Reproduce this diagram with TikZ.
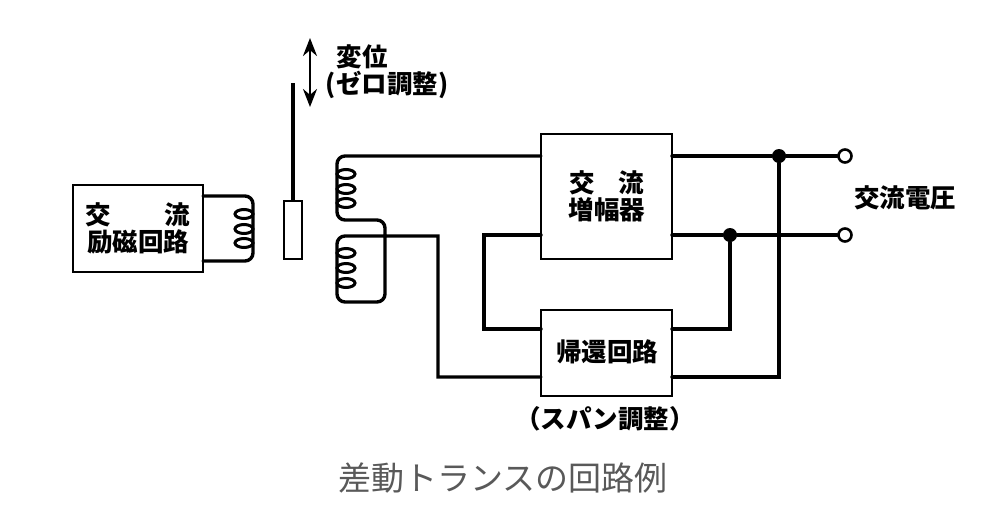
\documentclass[tikz,border=0pt]{standalone}
\usepackage{fontspec}
\setmainfont{Liberation Sans}
\newfontfamily\jpfont{Noto Sans CJK JP}
\usetikzlibrary{arrows.meta}

\tikzset{
    wire/.style={line width=3.4pt, line cap=round, line join=miter},
    coilwire/.style={wire, rounded corners=8pt},
    blockbox/.style={draw, line width=2.6pt, fill=white, inner sep=0pt},
    loopcoil/.style={line width=3pt},
    label/.style={font=\jpfont\bfseries\fontsize{25.5}{27}\selectfont, inner sep=0pt, align=center},
    dot/.style={circle, fill=black, inner sep=0pt, minimum size=14pt},
    terminal/.style={circle, draw, line width=2.6pt, fill=white, inner sep=0pt, minimum size=13pt}
}

\begin{document}
\begin{tikzpicture}[x=1pt, y=-1pt]
    \useasboundingbox (0, 0) rectangle (997, 520);

    % blocks
    \node[blockbox, minimum width=130pt, minimum height=87pt] (excite) at (138, 228.5) {};
    \node[blockbox, minimum width=131pt, minimum height=125pt] (amp) at (606.5, 196.5) {};
    \node[blockbox, minimum width=131pt, minimum height=86pt] (feedback) at (606.5, 353) {};
    \node[blockbox, minimum width=18pt, minimum height=58pt] (core) at (293, 230) {};

    % points on the wires
    \coordinate (rodtop) at (293, 83);
    \coordinate (arrowtop) at (310, 38);
    \coordinate (arrowbottom) at (310, 107);
    \coordinate (exciteA) at (203, 196);
    \coordinate (exciteB) at (203, 261);
    \coordinate (ampA) at (541, 156);
    \coordinate (ampB) at (541, 235);
    \coordinate (ampC) at (672, 156);
    \coordinate (ampD) at (672, 235);
    \coordinate (backA) at (541, 329);
    \coordinate (backB) at (541, 377);
    \coordinate (backC) at (672, 329);
    \coordinate (backD) at (672, 377);

    \node[dot] (dotA) at (779, 156) {};
    \node[dot] (dotB) at (730, 235) {};
    \node[terminal] (termA) at (845, 156) {};
    \node[terminal] (termB) at (845, 235) {};

    % rod and arrow
    \draw[line width=3.2pt] (rodtop) -- (core.north);
    \draw[line width=2.6pt, {Stealth[length=18pt, width=14pt]}-{Stealth[length=18pt, width=14pt]}] (arrowtop) -- (arrowbottom);

    % coils
    \draw[coilwire] (exciteA) -- (253, 196) -- (253, 261) -- (exciteB);
    \draw[coilwire] (ampA) -- (337, 156) -- (337, 220) -- (385, 220) -- (385, 302) -- (337, 302) -- (337, 236) -- (380, 236) [sharp corners] -- (438, 236) -- (438, 377) -- (backB);
    \foreach \ypos in {214, 229, 243}
        \draw[loopcoil] (244, \ypos) ellipse [x radius=9, y radius=4.5];
    \foreach \ypos in {174, 189, 203, 253, 268, 283}
        \draw[loopcoil] (346, \ypos) ellipse [x radius=9, y radius=4.5];

    % wires on the right
    \draw[wire] (ampB) -- (484, 235) -- (484, 329) -- (backA);
    \draw[wire] (backC) -- (730, 329) -- (dotB);
    \draw[wire] (backD) -- (779, 377) -- (dotA);
    \draw[wire] (ampC) -- (dotA) -- (termA);
    \draw[wire] (ampD) -- (dotB) -- (termB);

    % labels
    \node[label] (shift) at (362, 57) {変位};
    \node[label] (zero) at (387, 85) {(ゼロ調整)};
    \node[label] (excitetext) at (138, 228) {交\hspace{54pt}流\\励磁回路};
    \node[label] (amptext) at (607, 196) {交\hspace{24pt}流\\増幅器};
    \node[label] (backtext) at (607, 352) {帰還回路};
    \node[label] (span) at (605, 419) {（スパン調整）};
    \node[label] (volt) at (905, 198) {交流電圧};
    \node[font=\jpfont\fontsize{33}{35}\selectfont, text=black!65, inner sep=0pt] (caption) at (503, 478) {差動トランスの回路例};
\end{tikzpicture}
\end{document}
